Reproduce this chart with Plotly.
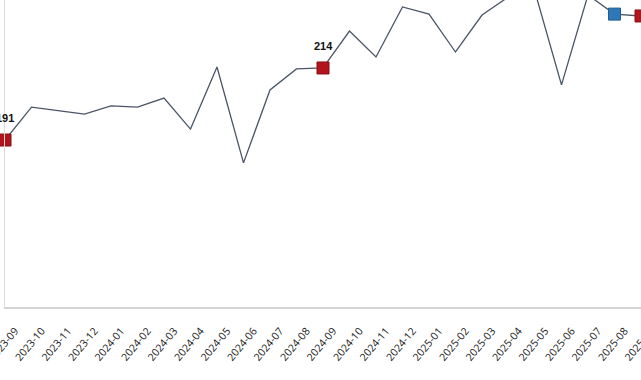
import plotly.graph_objects as go

months = ["2023-09", "2023-10", "2023-11", "2023-12", "2024-01", "2024-02", "2024-03",
          "2024-04", "2024-05", "2024-06", "2024-07", "2024-08", "2024-09", "2024-10",
          "2024-11", "2024-12", "2025-01", "2025-02", "2025-03", "2025-04", "2025-05",
          "2025-06", "2025-07", "2025-08", "2025-09"]
values = [191.0, 201.5, 200.4, 199.3, 201.9, 201.5, 204.4, 194.5, 214.3, 183.7, 207.0,
          213.7, 214.0, 225.8, 217.5, 233.5, 231.2, 219.1, 230.9, 236.7, 238.3, 208.6,
          237.3, 231.2, 230.6]
red_months = ["2023-09", "2024-09", "2025-09"]
label_months = ["2023-09", "2024-09"]
blue_months = ["2025-08"]

red_vals = [values[months.index(m)] for m in red_months]
blue_vals = [values[months.index(m)] for m in blue_months]

fig = go.Figure()
fig.add_trace(go.Scatter(
    x=months, y=values, mode="lines",
    line=dict(color="#4a5566", width=1.3),
    hoverinfo="skip", showlegend=False,
))
fig.add_trace(go.Scatter(
    x=red_months, y=red_vals, mode="markers",
    marker=dict(symbol="square", size=12, color="#b3141c",
                line=dict(color="#8a0e14", width=1)),
    cliponaxis=False, showlegend=False,
))
fig.add_trace(go.Scatter(
    x=blue_months, y=blue_vals, mode="markers",
    marker=dict(symbol="square", size=12, color="#2e78b7",
                line=dict(color="#1f5c91", width=1)),
    cliponaxis=False, showlegend=False,
))

for m in label_months:
    v = values[months.index(m)]
    fig.add_annotation(
        x=m, y=v, text=f"{v:.0f}", showarrow=False, yshift=22,
        font=dict(family="Liberation Sans", size=11, color="#111111", weight="bold"),
    )

fig.update_layout(
    width=641, height=380,
    margin=dict(l=5, r=0, t=0, b=73, autoexpand=False),
    paper_bgcolor="white", plot_bgcolor="white",
    font=dict(family="Open Sans", size=11, color="#333333"),
    xaxis=dict(
        type="category", range=[0, 24], tickangle=-50, automargin=False,
        showgrid=False, zeroline=False,
        showline=True, linecolor="#d4d4d4", linewidth=1.5,
        ticks="", ticklabelstandoff=12, ticklabelshift=10,
        tickfont=dict(family="Open Sans", size=10.5, color="#1a1a1a"),
    ),
    yaxis=dict(
        range=[137.7, 235.7], showgrid=False, zeroline=False, automargin=False,
        showline=True, linecolor="#dcdcdc", linewidth=1,
        showticklabels=False, ticks="",
    ),
)

fig.write_html("out.html")
